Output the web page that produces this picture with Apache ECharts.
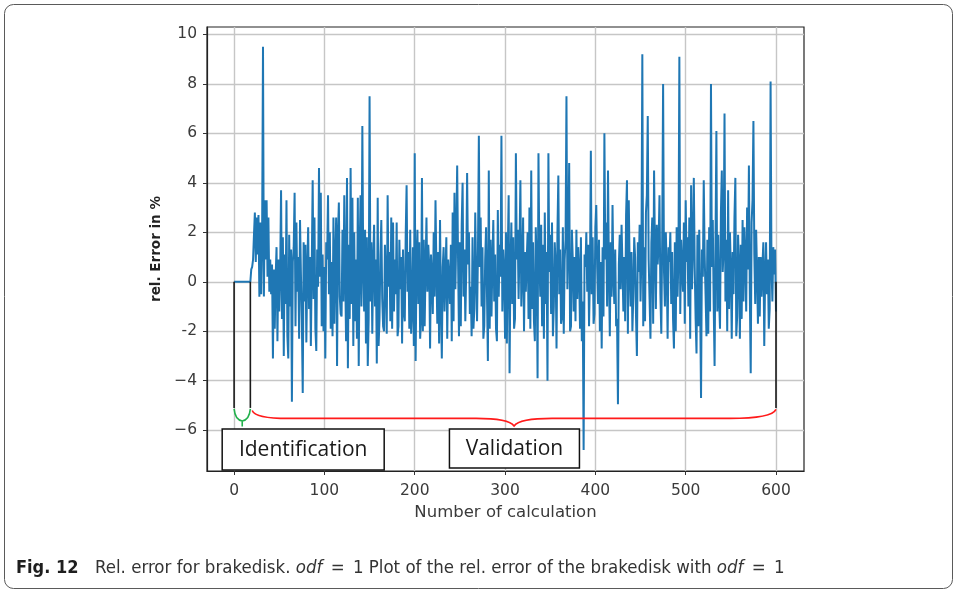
<!DOCTYPE html>
<html>
<head>
<meta charset="utf-8">
<title>Rel. error for brakedisk</title>
<script src="https://cdn.jsdelivr.net/npm/echarts@6/dist/echarts.min.js"></script>
<style>
  html, body { margin: 0; padding: 0; background: #ffffff; }
  #chart { width: 958px; height: 594px; }
</style>
</head>
<body>
<div id="chart"></div>
<script>
// Relative error (%) of each calculation; index = number of calculation
const relError = [
  0, 0, 0, 0, 0, 0, 0, 0, 0, 0, 0, 0, 0, 0, 0, 0, 0, 0, 0,
  0.5, 0.6, 0.9, 1.9, 2.8, 0.8, 2.6, 1.1, 2.7, -0.6,
  2.4, -0.5, 1.7, 9.5, -0.6, 3.3, 0.9, 3.3, 0.2, 2.6,
  -0.4, 0.9, -0.5, 0.7, -3.1, 0.5, -1.9, 0.2, 1.4, -2.4,
  0.9, -1.2, 0.4, 3.7, -1.5, 1.8, -3.0, 1.1, -0.9, 3.3,
  -2.2, -3.1, 1.9, -1.0, 1.3, -4.85, 0.8, 1.4, 3.6, -1.8,
  2.4, -0.4, 1.0, -2.3, 2.5, 0.3, -1.5, -4.5, 1.6, -0.8,
  1.5, -2.45, 0.4, 2.2, -1.1, 1.0, -2.6, 0.7, 4.1, -0.7,
  2.6, -1.9, -2.8, 1.3, -0.2, 4.6, 0.2, 3.6, -1.8, 1.1,
  -2.0, 0.6, -3.1, 1.6, 0.9, 3.5, -0.5, 2.0, -1.9, 0.8,
  -2.2, 2.6, -1.7, 0.9, 2.6, -3.4, 1.9, 3.2, -0.6, -1.3,
  -1.4, 2.1, -0.8, 3.5, 0.4, -2.4, 4.2, -3.5, 1.5, -1.5,
  4.6, -0.9, 3.4, -2.6, 2.0, -1.6, 0.9, -2.3, 3.4, -3.4,
  1.2, 3.5, -1.0, 6.3, 0.6, -1.2, 2.1, -2.5, 1.8, -3.4,
  -1.5, 7.5, -0.8, 1.6, -2.1, 0.8, 2.3, -1.0, 0.9, -3.3,
  3.4, -2.6, -1.5, 1.1, 2.5, -0.7, -1.8, -2.0, 1.5, 0.1,
  -2.1, 3.5, -0.2, 1.2, -1.6, 2.6, -1.9, 2.4, -1.2, 0.9,
  -0.5, 2.4, -2.2, -1.8, 1.7, -0.3, 1.0, -2.5, 1.3, -1.2,
  -1.6, 1.9, 3.9, -0.4, 1.2, -1.9, 2.1, -2.1, -1.1, 1.4,
  -2.6, 5.2, -3.2, 0.8, 2.1, -0.9, 1.6, -2.3, -1.5, 4.2,
  -2.0, 1.7, -1.8, 0.6, 2.6, -0.4, 1.5, 0.7, -2.7, 1.1,
  0.2, -1.3, 2.0, -0.6, 3.3, 0.5, -1.7, 1.2, -2.5, 2.5,
  -0.8, -3.1, 0.6, 1.4, -1.2, 0.3, 1.8, -2.3, 0.9, 0.2,
  -0.9, 1.5, -2.4, 2.8, -1.6, 3.6, -0.3, 1.9, 4.7, 0.8,
  -2.2, 1.6, -1.8, 2.3, 4.0, -0.6, 1.3, -1.6, 0.4, 4.4,
  0.7, 2.0, -1.3, -0.2, -2.2, 1.8, -1.9, -1.1, 2.8, 0.3,
  -1.6, 1.2, 5.9, 0.6, 2.6, -1.0, 1.4, -2.3, -1.8, 0.9,
  2.2, -0.5, -3.2, 4.5, -1.9, 1.7, -1.4, 0.8, 2.5, -0.8,
  1.1, -1.9, -2.4, 2.9, -0.6, 1.5, 0.2, 5.9, -1.2, 1.3,
  0.5, -2.3, 2.0, -2.5, 1.1, 3.5, -3.7, 0.6, 2.4, -0.9,
  1.8, -1.9, -1.5, 5.2, 0.9, 2.1, -0.7, 1.4, 4.1, -1.0,
  0.4, 2.6, -2.0, 1.2, -0.4, 0.9, 2.0, -1.5, 3.0, -1.9,
  4.5, -1.1, 1.6, -1.6, -2.4, 2.2, 0.8, -3.9, 5.2, 1.0,
  -0.6, 2.3, -1.8, 1.5, -2.3, 2.8, -0.9, 1.2, -4.0, 5.2,
  0.4, 1.9, -1.3, 2.4, -2.2, -1.0, 1.6, 0.7, -2.7, 2.0,
  4.3, -0.5, 1.3, -1.7, -1.4, 2.2, -2.1, 0.9, 1.7, 7.5,
  -0.3, 1.5, 4.8, -2.0, -1.8, 2.1, 0.9, -1.2, 1.0, -1.6,
  2.1, -0.7, 1.4, 0.5, -1.9, 1.8, -2.4, -0.8, -6.8, 1.1,
  0.6, 2.0, -0.4, 1.5, -1.8, 0.3, 5.3, -0.5, 1.8, -1.7,
  -1.3, 2.2, 3.1, 0.6, -0.9, 1.7, -2.0, 0.8, -2.7, 1.4,
  -1.4, 6.0, 0.9, 2.4, -1.0, 4.5, 0.5, -2.2, 1.6, -0.6,
  3.1, 0.2, -0.9, 1.3, -1.8, -1.5, -4.95, 0.7, 1.9, -0.3,
  2.3, 0.6, -1.2, 1.0, -1.6, 2.7, 4.1, -2.1, 3.3, 0.5,
  -1.0, 1.2, -2.0, -0.6, 1.8, 1.0, -1.4, -3.0, 1.6, 0.4,
  2.3, -0.8, 1.1, 9.2, -1.8, 1.4, -1.6, 2.8, 3.5, 6.7,
  0.9, -0.7, -2.3, 1.6, 2.6, -1.7, 4.5, 1.2, -1.1, 2.3,
  0.7, 1.5, 3.5, -0.5, -2.1, 1.8, 8.0, 0.4, -1.0, 2.0,
  0.6, -2.3, 1.4, 0.8, 2.0, -0.9, 1.2, -1.5, -2.7, 1.6,
  -2.0, 2.2, -0.6, 1.0, 9.1, -1.3, 1.7, 0.5, -0.4, 2.4,
  -1.7, 3.3, 0.8, 1.8, -1.0, 2.6, -2.3, 3.9, -0.3, 1.4,
  4.2, 0.6, -1.5, -2.9, 1.9, -1.8, 2.1, -0.8, -4.7, 1.3,
  0.2, 4.1, 1.1, -0.5, -2.2, 1.7, -2.1, 2.2, -1.2, 8.0,
  0.6, 2.5, -0.9, -3.4, 1.6, 6.1, -1.2, 1.9, -0.7, -1.9,
  2.8, 4.5, 0.4, 1.3, 6.8, -0.8, 1.7, -2.0, 3.7, -1.1,
  2.0, 0.5, -2.3, 1.2, -0.5, 2.6, 4.2, -2.2, -1.4, 1.9,
  0.7, -2.3, 1.5, -1.5, 2.5, -0.8, 2.2, 1.0, -1.2, 3.0,
  0.5, 4.7, -0.4, -3.7, 2.4, 3.3, 6.5, 1.1, -0.9, 2.1,
  0.4, -1.7, 1.0, -1.4, 1.0, -0.6, 0.7, 1.6, -2.6, 0.3,
  1.6, -0.5, 0.9, -1.9, -1.1, 8.1, 0.6, -0.8, 1.4, 0.3,
  1.3, -1.2
];

// Axis ticks
const xTicks = [0, 100, 200, 300, 400, 500, 600];
const yTicks = [-6, -4, -2, 0, 2, 4, 6, 8, 10];
const yTickLabels = ['\u22126', '\u22124', '-2', '0', '2', '4', '6', '8', '10'];

// Phases of the study
const phaseNames = ['Identification', 'Validation'];
const identificationEnd = 18;   // last calculation of the identification phase
const validationStart = 20;     // first calculation of the validation phase
const validationEnd = 600;      // last calculation

// Annotation geometry (data units)
const braceTop = -5.1;
const phaseLabelAt = [[76.5, -6.78], [310.4, -6.74]];
const phaseLabelSize = [[162, 41], [130, 39]];

const seriesData = relError.map((v, i) => [i, v]);

const chart = echarts.init(document.getElementById('chart'), null, { renderer: 'canvas' });

function renderAnnotations(params, api) {
  const p = (x, y) => api.coord([x, y]);
  const children = [];

  // vertical phase markers
  [0, identificationEnd, validationEnd].forEach(function (x) {
    const a = p(x, 0), b = p(x, braceTop);
    children.push({
      type: 'line',
      shape: { x1: a[0], y1: a[1], x2: b[0], y2: b[1] },
      style: { stroke: '#1a1a1a', lineWidth: 1.6 }
    });
  });

  // green brace under the identification phase
  const g1 = p(0, braceTop), g2 = p(identificationEnd, braceTop);
  const gm = (g1[0] + g2[0]) / 2, gy = g1[1];
  children.push({
    type: 'path',
    shape: {
      pathData:
        'M' + g1[0] + ' ' + (gy + 1) +
        ' Q' + (g1[0] + 1) + ' ' + (gy + 12) + ' ' + gm + ' ' + (gy + 13) +
        ' M' + g2[0] + ' ' + (gy + 1) +
        ' Q' + (g2[0] - 1) + ' ' + (gy + 12) + ' ' + gm + ' ' + (gy + 13) +
        ' M' + gm + ' ' + (gy + 13) + ' L' + gm + ' ' + (gy + 18.5)
    },
    style: { stroke: '#22b14c', lineWidth: 1.6, fill: 'none' }
  });

  // red brace under the validation phase
  const r1 = p(validationStart, braceTop), r2 = p(validationEnd, braceTop);
  const rm = (r1[0] + r2[0]) / 2, ry = r1[1], rf = ry + 10.5;
  children.push({
    type: 'path',
    shape: {
      pathData:
        'M' + r1[0] + ' ' + (ry + 2.5) +
        ' Q' + (r1[0] + 3) + ' ' + rf + ' ' + (r1[0] + 36) + ' ' + rf +
        ' L' + (rm - 38) + ' ' + rf +
        ' C' + (rm - 16) + ' ' + rf + ' ' + (rm - 4) + ' ' + (rf + 2) + ' ' + rm + ' ' + (rf + 7.5) +
        ' C' + (rm + 4) + ' ' + (rf + 2) + ' ' + (rm + 16) + ' ' + rf + ' ' + (rm + 38) + ' ' + rf +
        ' L' + (r2[0] - 46) + ' ' + rf +
        ' Q' + (r2[0] - 4) + ' ' + rf + ' ' + r2[0] + ' ' + (ry + 1.5)
    },
    style: { stroke: '#ff1a1a', lineWidth: 1.6, fill: 'none' }
  });

  // phase labels in boxes
  phaseNames.forEach(function (name, k) {
    const c = p(phaseLabelAt[k][0], phaseLabelAt[k][1]);
    const w = phaseLabelSize[k][0], h = phaseLabelSize[k][1];
    children.push({
      type: 'rect',
      shape: { x: c[0] - w / 2, y: c[1] - h / 2, width: w, height: h },
      style: { fill: '#ffffff', stroke: '#111111', lineWidth: 1.5 }
    });
    children.push({
      type: 'text',
      style: {
        text: name, x: c[0], y: c[1] + 1, align: 'center', verticalAlign: 'middle',
        fontFamily: '"Open Sans", sans-serif', fontSize: 21, fill: '#1a1a1a'
      }
    });
  });

  return { type: 'group', children: children };
}

const captionFont = '"Liberation Sans Narrow", "DejaVu Sans Condensed", sans-serif';

const option = {
  animation: false,
  backgroundColor: '#ffffff',
  grid: {
    left: 207, top: 27, right: 154, bottom: 123,
    show: true, borderColor: '#222222', borderWidth: 1.2, backgroundColor: 'transparent'
  },
  xAxis: {
    type: 'value',
    min: -30, max: 631,
    name: 'Number of calculation',
    nameLocation: 'middle',
    nameGap: 33,
    nameTextStyle: { fontFamily: '"DejaVu Sans", sans-serif', fontSize: 16.5, color: '#3a3a3a' },
    axisLine: { show: true, onZero: false, lineStyle: { color: '#222222', width: 1.2 } },
    axisTick: { show: true, inside: false, length: 4, customValues: xTicks, lineStyle: { color: '#333333', width: 1 } },
    axisLabel: {
      customValues: xTicks, margin: 12,
      fontFamily: '"DejaVu Sans", sans-serif', fontSize: 15.5, color: '#3a3a3a'
    },
    splitLine: { show: true, lineStyle: { color: '#c6c6c6', width: 1.4 } }
  },
  yAxis: {
    type: 'value',
    min: -7.65, max: 10.3,
    name: 'rel. Error in %',
    nameLocation: 'middle',
    nameGap: 42,
    nameRotate: 90,
    nameTextStyle: { fontFamily: '"DejaVu Sans", sans-serif', fontSize: 13.5, fontWeight: 'bold', color: '#222222' },
    axisLine: { show: true, onZero: false, lineStyle: { color: '#222222', width: 1.2 } },
    axisTick: { show: true, inside: false, length: 4, customValues: yTicks, lineStyle: { color: '#333333', width: 1 } },
    axisLabel: {
      customValues: yTicks, margin: 10,
      fontFamily: '"DejaVu Sans", sans-serif', fontSize: 15.5, color: '#3a3a3a',
      formatter: function (v) {
        const k = yTicks.indexOf(Math.round(v));
        return k >= 0 ? yTickLabels[k] : '';
      }
    },
    splitLine: { show: true, lineStyle: { color: '#c6c6c6', width: 1.4 } }
  },
  series: [
    {
      name: 'rel. Error',
      type: 'line',
      data: seriesData,
      showSymbol: false,
      symbol: 'none',
      clip: true,
      lineStyle: { color: '#1f77b4', width: 2 },
      z: 3
    },
    {
      name: 'phases',
      type: 'custom',
      data: [[0, 0]],
      renderItem: renderAnnotations,
      clip: false,
      silent: true,
      z: 5
    }
  ],
  graphic: [
    {
      type: 'rect',
      shape: { x: 4.5, y: 4.5, width: 948, height: 584, r: 9 },
      style: { fill: 'none', stroke: '#5a5a5a', lineWidth: 1 },
      silent: true
    },
    {
      type: 'text',
      left: 16, top: 559,
      style: {
        text: 'Fig. 12',
        fontFamily: captionFont,
        fontSize: 18, fontWeight: 'bold', fill: '#1e1e1e'
      }
    },
    {
      type: 'text',
      left: 95, top: 559,
      style: {
        text: 'Rel. error for brakedisk. {i|odf}\u2002=\u20021 Plot of the rel. error of the brakedisk with {i|odf}\u2002=\u20021',
        fontFamily: captionFont,
        fontSize: 18.5, fill: '#333333',
        rich: {
          i: { fontStyle: 'italic', fontSize: 18.5, fill: '#333333', fontFamily: captionFont }
        }
      }
    }
  ]
};

chart.setOption(option);
</script>
</body>
</html>
